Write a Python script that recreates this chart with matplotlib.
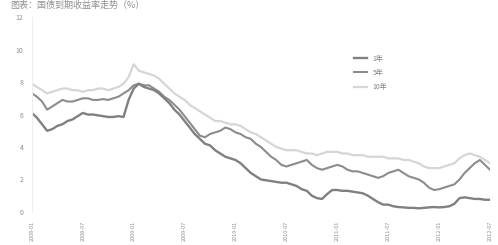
import matplotlib
matplotlib.use('Agg')
import matplotlib.pyplot as plt

plt.rcParams['font.family'] = ['Noto Sans CJK SC', 'DejaVu Sans']

# tick labels along the x axis (every 10th point)
tick_labels = ['2008-01', '2008-07', '2009-01', '2009-07', '2010-01',
               '2010-07', '2011-01', '2011-07', '2012-01', '2012-07']

y_1 = [6.1, 5.8, 5.4, 5.0, 5.1, 5.3, 5.4, 5.6, 5.7, 5.9,
       6.1, 6.0, 6.0, 5.95, 5.9, 5.85, 5.85, 5.9, 5.85, 6.9,
       7.6, 7.9, 7.7, 7.6, 7.5, 7.3, 7.0, 6.7, 6.3, 6.0,
       5.6, 5.2, 4.8, 4.5, 4.2, 4.1, 3.8, 3.6, 3.4, 3.3,
       3.2, 3.0, 2.7, 2.4, 2.2, 2.0, 1.95, 1.9, 1.85, 1.8,
       1.8, 1.7, 1.6, 1.4, 1.3, 1.0, 0.85, 0.8, 1.1, 1.35,
       1.35, 1.3, 1.3, 1.25, 1.2, 1.15, 1.0, 0.8, 0.6, 0.45,
       0.45, 0.35, 0.3, 0.28, 0.25, 0.25, 0.22, 0.25, 0.28, 0.3,
       0.28, 0.3, 0.35, 0.5, 0.85, 0.9, 0.85, 0.8, 0.8, 0.75, 0.75]

y_5 = [7.3, 7.1, 6.8, 6.3, 6.5, 6.7, 6.9, 6.8, 6.8, 6.9,
       7.0, 7.0, 6.9, 6.9, 6.95, 6.9, 7.0, 7.1, 7.3, 7.5,
       7.8, 7.9, 7.8, 7.8, 7.6, 7.4, 7.1, 6.9, 6.6, 6.3,
       5.9, 5.5, 5.1, 4.7, 4.6, 4.8, 4.9, 5.0, 5.2, 5.1,
       4.9, 4.8, 4.6, 4.5, 4.2, 4.0, 3.7, 3.4, 3.2, 2.9,
       2.8, 2.9, 3.0, 3.1, 3.2, 2.9, 2.7, 2.6, 2.7, 2.8,
       2.9, 2.8, 2.6, 2.5, 2.5, 2.4, 2.3, 2.2, 2.1, 2.2,
       2.4, 2.5, 2.6, 2.4, 2.2, 2.1, 2.0, 1.8, 1.5, 1.35,
       1.4, 1.5, 1.6, 1.7, 2.0, 2.4, 2.7, 3.0, 3.2, 2.9, 2.6]

y_10 = [7.9, 7.7, 7.5, 7.3, 7.4, 7.5, 7.6, 7.6, 7.5, 7.5,
        7.4, 7.5, 7.5, 7.6, 7.6, 7.5, 7.6, 7.7, 7.9, 8.3,
        9.1, 8.7, 8.6, 8.5, 8.4, 8.2, 7.9, 7.6, 7.3, 7.1,
        6.9, 6.6, 6.4, 6.2, 6.0, 5.8, 5.6, 5.6, 5.5, 5.4,
        5.4, 5.3, 5.1, 4.9, 4.8, 4.6, 4.4, 4.2, 4.0, 3.9,
        3.8, 3.8, 3.8, 3.7, 3.6, 3.6, 3.5, 3.6, 3.7, 3.7,
        3.7, 3.6, 3.6, 3.5, 3.5, 3.5, 3.4, 3.4, 3.4, 3.4,
        3.3, 3.3, 3.3, 3.2, 3.2, 3.1, 3.0, 2.8, 2.7, 2.7,
        2.7, 2.8, 2.9, 3.0, 3.3, 3.5, 3.6, 3.5, 3.4, 3.2, 3.0]

x = list(range(len(y_1)))

fig = plt.figure(figsize=(4.98, 2.45), dpi=100)
ax = fig.add_axes([0.064, 0.135, 0.92, 0.795])

ax.plot(x, y_10, color='#d6d6d6', lw=1.6, label='10年')
ax.plot(x, y_5, color='#8c8c8c', lw=1.5, label='5年')
ax.plot(x, y_1, color='#808080', lw=1.7, label='1年')

ax.set_xlim(0, len(x) - 1)
ax.set_ylim(0, 12)
ax.set_yticks([0, 2, 4, 6, 8, 10, 12])
ax.set_xticks(range(0, len(x), 10))
ax.set_xticklabels(tick_labels, rotation=90)
ax.tick_params(axis='both', labelsize=5, colors='#909090', length=0, pad=6)
ax.tick_params(axis='x', labelsize=4)

for s in ['top', 'right', 'bottom']:
    ax.spines[s].set_visible(False)
ax.spines['left'].set_color('#eeeeee')

# legend in the order 1年, 5年, 10年
h, l = ax.get_legend_handles_labels()
leg = ax.legend(h[::-1], l[::-1], loc='upper left', bbox_to_anchor=(0.69, 0.84),
                frameon=False, fontsize=5, handlelength=1.8, labelspacing=0.9)
for t in leg.get_texts():
    t.set_color('#808080')

fig.text(0.02, 0.998, '图表：国债到期收益率走势（%）', fontsize=6.5,
         color='#909090', va='top', ha='left')

fig.savefig('out.png', dpi=100)
